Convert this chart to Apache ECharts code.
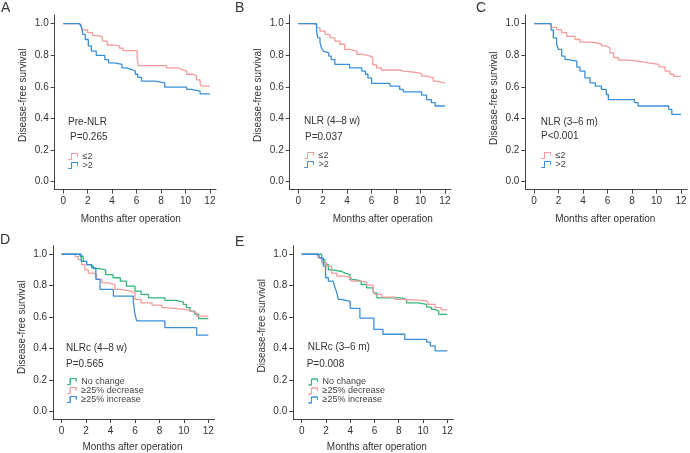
<!DOCTYPE html>
<html>
<head>
<meta charset="utf-8">
<script src="https://cdn.jsdelivr.net/npm/echarts@6/dist/echarts.min.js"></script>
<style>html,body{margin:0;padding:0;background:#fff}#main{width:690px;height:453px}</style>
</head>
<body>
<div id="main"></div>
<script>
var xTicks = [0, 2, 4, 6, 8, 10, 12];
var yTicks = [0, 0.2, 0.4, 0.6, 0.8, 1.0];

// [months, survival] - value starts at that month
var aLow = [[0,1],[1.23,0.99],[1.5,0.975],[1.6,0.96],[2.0,0.943],[2.4,0.925],[2.9,0.915],[3.2,0.89],[3.6,0.865],[4.1,0.86],[4.6,0.845],[4.9,0.83],[6.05,0.78],[6.15,0.735],[8.45,0.72],[9.4,0.71],[9.7,0.70],[10.1,0.68],[10.6,0.67],[10.9,0.645],[11.2,0.62],[11.3,0.605],[12,0.605]];
var aHigh = [[0,1],[1.35,0.99],[1.5,0.975],[1.6,0.932],[1.8,0.90],[2.05,0.86],[2.3,0.827],[2.7,0.80],[3.4,0.773],[3.7,0.752],[4.2,0.742],[4.8,0.72],[5.2,0.71],[5.6,0.70],[5.9,0.68],[6.1,0.66],[6.4,0.637],[7.5,0.625],[8.3,0.598],[10.1,0.584],[10.5,0.573],[11.2,0.556],[12,0.556]];

var bLow = [[0,1],[1.23,0.99],[1.5,0.975],[1.78,0.953],[2.2,0.932],[2.6,0.91],[3.0,0.89],[3.4,0.87],[3.8,0.837],[4.2,0.827],[4.8,0.806],[5.3,0.795],[5.9,0.785],[6.1,0.74],[6.4,0.72],[6.8,0.707],[8.3,0.70],[8.6,0.69],[9.8,0.683],[10.1,0.668],[10.5,0.657],[11.05,0.636],[11.3,0.625],[12,0.625]];
var bHigh = [[0,1],[1.5,0.95],[1.6,0.91],[1.78,0.88],[1.9,0.848],[2.05,0.827],[2.2,0.816],[2.5,0.795],[2.7,0.773],[3.0,0.742],[4.2,0.72],[5.2,0.70],[5.5,0.68],[5.7,0.657],[6.0,0.622],[7.5,0.605],[8.3,0.584],[8.6,0.569],[10.1,0.548],[10.5,0.52],[10.9,0.50],[11.2,0.479],[12,0.479]];

var cLow = [[0,1],[1.3,0.99],[1.44,0.977],[1.85,0.963],[2.26,0.943],[2.67,0.92],[3.35,0.90],[3.76,0.883],[4.7,0.873],[5.5,0.86],[5.9,0.848],[6.2,0.816],[6.5,0.785],[6.9,0.77],[7.7,0.763],[8.5,0.752],[9.3,0.742],[10.2,0.727],[10.7,0.70],[11.1,0.68],[11.4,0.667],[12,0.667]];
var cHigh = [[0,1],[1.4,0.96],[1.58,0.91],[1.85,0.868],[2.0,0.837],[2.26,0.795],[2.53,0.773],[2.8,0.763],[3.5,0.725],[3.76,0.70],[4.16,0.657],[4.57,0.626],[5.0,0.605],[5.5,0.584],[5.9,0.552],[6.07,0.52],[8.2,0.50],[8.5,0.479],[11.0,0.458],[11.25,0.426],[12,0.426]];

var dSame = [[0,1],[1.5,0.987],[1.77,0.955],[2.04,0.934],[2.32,0.924],[2.59,0.909],[3.1,0.90],[3.6,0.87],[4.2,0.85],[4.8,0.828],[5.3,0.797],[6.0,0.765],[6.5,0.744],[7.1,0.722],[8.45,0.706],[9.3,0.697],[9.95,0.68],[10.2,0.66],[10.5,0.638],[10.9,0.617],[11.2,0.59],[12,0.59]];
var dDown = [[0,1],[1.1,0.985],[1.36,0.965],[1.63,0.934],[1.9,0.90],[2.18,0.88],[2.6,0.87],[2.86,0.84],[3.3,0.818],[3.8,0.807],[4.36,0.776],[4.9,0.765],[5.6,0.754],[6.0,0.712],[6.5,0.69],[7.4,0.676],[8.2,0.66],[8.45,0.648],[10.1,0.638],[10.6,0.627],[11.05,0.606],[12,0.606]];
var dUp = [[0,1],[1.6,0.955],[2.04,0.934],[2.45,0.913],[2.8,0.84],[3.14,0.776],[4.23,0.733],[5.86,0.70],[6.0,0.617],[6.14,0.575],[8.45,0.532],[11.05,0.485],[12,0.485]];

var eSame = [[0,1],[1.65,0.966],[1.92,0.934],[2.2,0.90],[2.6,0.89],[3.3,0.88],[3.57,0.87],[3.98,0.838],[4.4,0.828],[4.9,0.807],[5.35,0.786],[5.9,0.754],[6.2,0.722],[8.2,0.712],[8.65,0.69],[9.6,0.68],[10.3,0.663],[10.7,0.648],[11.0,0.638],[11.3,0.617],[12,0.617]];
var eDown = [[0,1],[1.23,0.99],[1.37,0.976],[1.65,0.945],[2.06,0.924],[2.47,0.88],[2.9,0.86],[3.57,0.85],[4.1,0.828],[4.9,0.822],[5.35,0.803],[5.9,0.769],[6.04,0.744],[6.6,0.727],[7.7,0.712],[8.2,0.706],[10.0,0.70],[10.4,0.68],[11.0,0.66],[11.5,0.645],[12,0.645]];
var eUp = [[0,1],[1.37,0.99],[1.5,0.976],[1.78,0.924],[1.97,0.85],[2.2,0.828],[2.6,0.816],[2.75,0.786],[2.9,0.754],[3.02,0.712],[3.3,0.70],[4.0,0.655],[4.8,0.593],[5.95,0.521],[6.7,0.49],[8.5,0.457],[10.3,0.44],[10.6,0.416],[11.0,0.384],[12,0.384]];

var PINK = '#f29c9c', BLUE = '#3b8fd9', GREEN = '#33b57a';
var FONT = '"Liberation Sans", Arial, sans-serif';
var AXIS = '#444';
var stepIcon = 'path://M0,7 L3,7 L3,1 L9,1 L9,4 L9,1 L3,1 L3,7 Z';

var chart = echarts.init(document.getElementById('main'));

// panel boxes
var panels = [
  {left: 54.7, top: 15, width: 161.3, height: 174.6, xShift: -4.6, yShift: 7, gapX: 25},
  {left: 289.7, top: 15, width: 161.3, height: 174.6, xShift: 12.4, yShift: 7, gapX: 25},
  {left: 525.4, top: 15, width: 161.7, height: 174.6, xShift: -1, yShift: 4, gapX: 25},
  {left: 53.1, top: 245.6, width: 161.3, height: 173.9, xShift: -1.3, yShift: 5, gapX: 23},
  {left: 293.2, top: 245.6, width: 160.1, height: 173.9, xShift: 3.6, yShift: 6.5, gapX: 23}
];

function pad(shift) {
  return shift >= 0 ? [0, 0, 0, 2 * shift] : [0, -2 * shift, 0, 0];
}

var grids = [], xAxes = [], yAxes = [];
panels.forEach(function (p, i) {
  grids.push({left: p.left, top: p.top, width: p.width, height: p.height, containLabel: false});
  xAxes.push({
    type: 'value', gridIndex: i, min: -0.7, max: 12.5,
    name: 'Months after operation', nameLocation: 'middle', nameGap: p.gapX,
    nameTextStyle: {fontSize: 10, color: '#333', fontFamily: FONT, padding: pad(p.xShift)},
    axisLine: {onZero: false, lineStyle: {color: AXIS, width: 1}},
    axisTick: {length: 4, customValues: xTicks, lineStyle: {color: AXIS}},
    axisLabel: {customValues: xTicks, margin: 7, fontSize: 10, color: '#333', fontFamily: FONT},
    splitLine: {show: false}
  });
  yAxes.push({
    type: 'value', gridIndex: i, min: -0.05, max: 1.055,
    name: 'Disease-free survival', nameLocation: 'middle', nameGap: 26,
    nameTextStyle: {fontSize: 10, color: '#333', fontFamily: FONT, padding: pad(p.yShift)},
    axisLine: {show: true, onZero: false, lineStyle: {color: AXIS, width: 1}},
    axisTick: {show: true, length: 4, customValues: yTicks, lineStyle: {color: AXIS}},
    axisLabel: {customValues: yTicks, margin: 6, fontSize: 10, color: '#333', fontFamily: FONT,
      formatter: function (v) { return v.toFixed(1); }},
    splitLine: {show: false}
  });
});

// series names carry a panel prefix so each legend maps to its own panel
function curve(panel, name, data, color, idx) {
  return {
    name: panel + '|' + name, type: 'line', step: 'end', data: data, xAxisIndex: idx, yAxisIndex: idx,
    showSymbol: false, symbol: 'none', color: color,
    itemStyle: {color: color},
    lineStyle: {color: color, width: 1.3}, silent: true
  };
}

var series = [
  curve('A', '≤2', aLow, PINK, 0), curve('A', '>2', aHigh, BLUE, 0),
  curve('B', '≤2', bLow, PINK, 1), curve('B', '>2', bHigh, BLUE, 1),
  curve('C', '≤2', cLow, PINK, 2), curve('C', '>2', cHigh, BLUE, 2),
  curve('D', 'No change', dSame, GREEN, 3), curve('D', '≥25% decrease', dDown, PINK, 3), curve('D', '≥25% increase', dUp, BLUE, 3),
  curve('E', 'No change', eSame, GREEN, 4), curve('E', '≥25% decrease', eDown, PINK, 4), curve('E', '≥25% increase', eUp, BLUE, 4)
];

var twoGroups = ['≤2', '>2'];
var twoColors = [PINK, BLUE];
var threeGroups = ['No change', '≥25% decrease', '≥25% increase'];
var threeColors = [GREEN, PINK, BLUE];

function legend(panel, left, top, names, colors) {
  return {
    left: left, top: top, orient: 'vertical', icon: stepIcon,
    data: names.map(function (n, k) {
      return {
        name: panel + '|' + n,
        itemStyle: {color: colors[k], borderColor: colors[k], borderWidth: 1}
      };
    }),
    formatter: function (n) { return n.split('|')[1]; },
    itemWidth: 9, itemHeight: 6, itemGap: 0, selectedMode: false, padding: 0,
    textStyle: {fontSize: 9, lineHeight: 9, color: '#444', fontFamily: FONT}
  };
}

function label(x, y, text, size) {
  return {type: 'text', x: x, y: y, style: {text: text, fontSize: size || 10, fill: '#333', fontFamily: FONT, verticalAlign: 'middle'}};
}

var option = {
  animation: false,
  grid: grids, xAxis: xAxes, yAxis: yAxes, series: series,
  legend: [
    legend('A', 68, 152, twoGroups, twoColors), legend('B', 304, 151, twoGroups, twoColors), legend('C', 541, 151, twoGroups, twoColors),
    legend('D', 66.7, 377, threeGroups, threeColors), legend('E', 308, 377.5, threeGroups, threeColors)
  ],
  graphic: [
    label(1, 8, 'A', 14), label(235, 8, 'B', 14), label(476, 8, 'C', 14),
    label(0, 240, 'D', 14), label(235, 242, 'E', 14),
    label(68, 122, 'Pre-NLR'), label(70, 137.7, 'P=0.265'),
    label(304, 121.7, 'NLR (4–8 w)'), label(305, 137.7, 'P=0.037'),
    label(540.7, 122.3, 'NLR (3–6 m)'), label(541, 136.7, 'P<0.001'),
    label(66, 348.7, 'NLRc (4–8 w)'), label(66, 364.3, 'P=0.565'),
    label(307.7, 347.3, 'NLRc (3–6 m)'), label(306.7, 364.3, 'P=0.008')
  ]
};
chart.setOption(option);
</script>
</body>
</html>
